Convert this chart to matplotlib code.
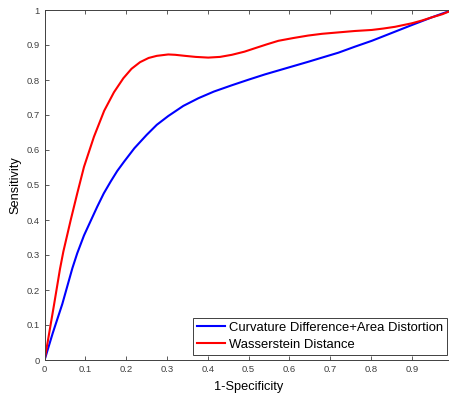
import numpy as np
import matplotlib
matplotlib.use("Agg")
import matplotlib.pyplot as plt
from matplotlib.ticker import FormatStrFormatter

# values
blue_fpr = [0, 0.02, 0.0434, 0.068, 0.080, 0.0966, 0.11, 0.129, 0.145, 0.162,
            0.178, 0.195, 0.22, 0.25, 0.275, 0.303, 0.34, 0.377, 0.415, 0.459,
            0.5, 0.54, 0.59, 0.646, 0.68, 0.72, 0.76, 0.802, 0.85, 0.90,
            0.949, 0.975, 1.0]
blue_tpr = [0, 0.077, 0.16, 0.262, 0.305, 0.356, 0.39, 0.438, 0.476, 0.51,
            0.54, 0.567, 0.605, 0.643, 0.672, 0.697, 0.726, 0.748, 0.767, 0.785,
            0.801, 0.816, 0.833, 0.852, 0.864, 0.878, 0.895, 0.912, 0.934, 0.957,
            0.979, 0.99, 1.0]

red_fpr = [0, 0.023, 0.0377, 0.046, 0.064, 0.080, 0.0966, 0.121, 0.146, 0.17,
           0.193, 0.213, 0.234, 0.255, 0.275, 0.303, 0.32, 0.344, 0.37, 0.401,
           0.43, 0.459, 0.49, 0.516, 0.545, 0.573, 0.61, 0.646, 0.68, 0.72,
           0.76, 0.802, 0.83, 0.859, 0.90, 0.925, 0.949, 0.975, 1.0]
red_tpr = [0, 0.157, 0.26, 0.31, 0.40, 0.476, 0.552, 0.638, 0.712, 0.765,
           0.805, 0.832, 0.851, 0.863, 0.869, 0.873, 0.872, 0.869, 0.866, 0.864,
           0.866, 0.872, 0.881, 0.891, 0.902, 0.912, 0.920, 0.927, 0.932, 0.936,
           0.94, 0.943, 0.947, 0.952, 0.962, 0.97, 0.979, 0.988, 1.0]

labels = ['Curvature Difference+Area Distortion', 'Wasserstein Distance']
ticks = np.arange(0, 1.01, 0.1)

plt.rcParams['font.family'] = ['Liberation Sans', 'DejaVu Sans']
axcol = '#404040'

fig = plt.figure(figsize=(4.49, 3.95), dpi=100)
ax = fig.add_axes([44.6 / 449, 35 / 395, 408 / 449, 350 / 395])

ax.plot(blue_fpr, blue_tpr, color=(0, 0, 1), lw=1.5, label=labels[0])
ax.plot(red_fpr, red_tpr, color=(1, 0, 0), lw=1.5, label=labels[1])

ax.set_xlim(0, 1)
ax.set_ylim(0, 1)
ax.set_xticks(ticks)
ax.set_yticks(ticks)
# the x=1 label falls outside the cropped picture
ax.set_xticklabels(['%g' % round(t, 1) for t in ticks[:-1]] + [''])
ax.yaxis.set_major_formatter(FormatStrFormatter('%g'))
ax.tick_params(direction='in', top=True, right=True, length=3, width=0.6,
               color=axcol, labelcolor=axcol, labelsize=6.8, pad=3.5)
for s in ax.spines.values():
    s.set_color(axcol)
    s.set_linewidth(0.7)

ax.set_xlabel('1-Specificity', fontsize=9.2, labelpad=5)
ax.set_ylabel('Sensitivity', fontsize=9.2, labelpad=4)

leg = ax.legend(loc='lower right', fontsize=9.4, fancybox=False, framealpha=1,
                edgecolor=axcol, handlelength=2.15, handletextpad=0.3,
                borderpad=0.3, labelspacing=0.35, borderaxespad=0.42)
leg.get_frame().set_linewidth(0.7)

fig.savefig('out.png', dpi=100)
